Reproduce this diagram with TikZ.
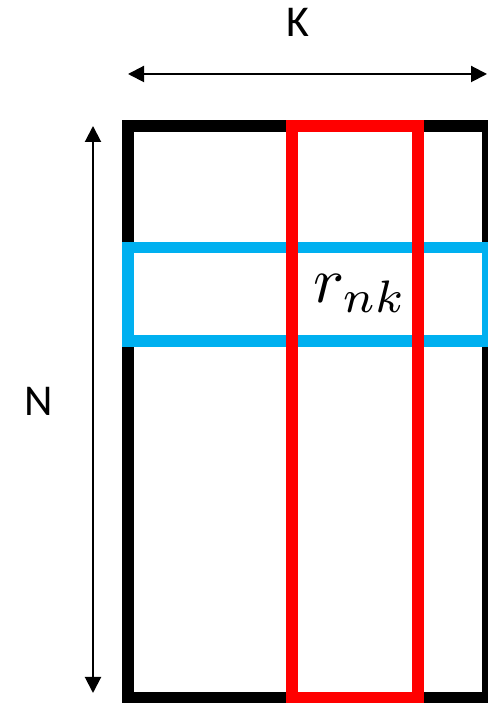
\documentclass[tikz,border=0pt]{standalone}
\usepackage{fontspec}
\setmainfont{Carlito}
\usetikzlibrary{arrows.meta}
\definecolor{pblue}{HTML}{00B0F0}
\definecolor{pred}{HTML}{FF0000}
\tikzset{
  frame/.style={line width=12pt, line join=miter},
  dimarrow/.style={line width=2pt, {Triangle[length=16pt,width=16pt]}-{Triangle[length=16pt,width=16pt]}},
  dimlabel/.style={font=\fontsize{44}{44}\selectfont, inner sep=0pt}
}
\begin{document}
\begin{tikzpicture}[x=1pt,y=1pt]
\useasboundingbox (0,0) rectangle (487,703);
% black matrix
\draw[frame, black] (128,577) rectangle (488,5);
% blue row
\draw[frame, pblue, line width=11.5pt] (128,455.5) rectangle (488,362);
% red column
\draw[frame, pred] (292,577) rectangle (417.5,5);
% dimension arrows
\coordinate (kl) at (128,629);
\coordinate (kr) at (487,629);
\coordinate (nt) at (93,577);
\coordinate (nb) at (93,10);
\draw[dimarrow] (kl) -- (kr);
\draw[dimarrow] (nt) -- (nb);
\node[dimlabel] (K) at (298,680.5) {K};
\node[dimlabel] (N) at (39,301.5) {N};
\node[inner sep=0pt, anchor=base west, scale=6.5] (r) at (312,400) {$r_{nk}$};
\end{tikzpicture}
\end{document}
